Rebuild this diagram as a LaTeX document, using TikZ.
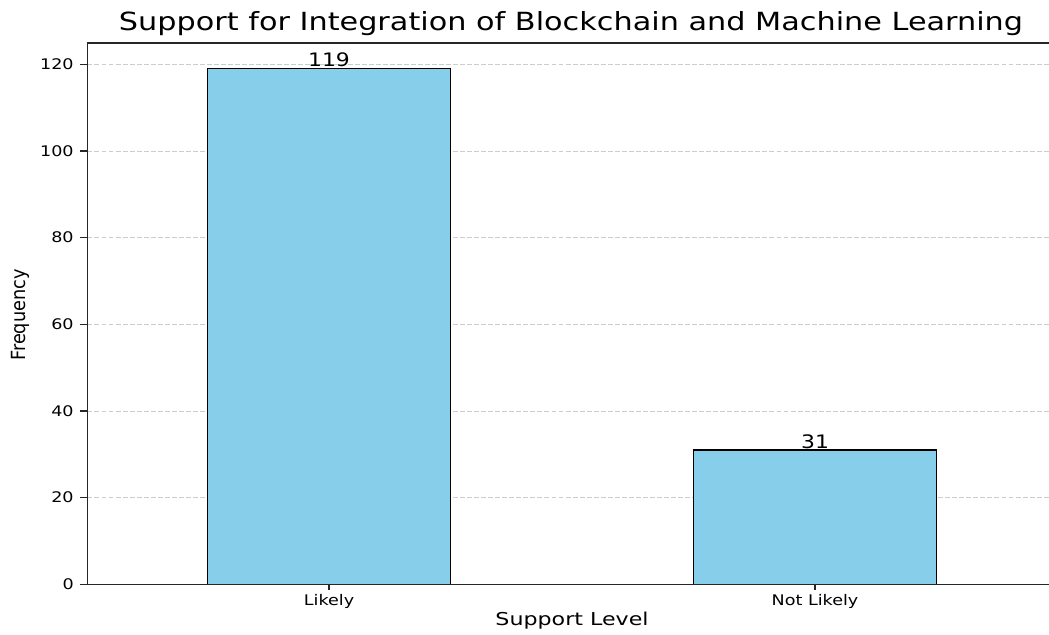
\documentclass[tikz,border=0pt]{standalone}
\usepackage{fontspec}
\setmainfont{DejaVu Sans}
\usepackage{xcolor}
\definecolor{skyblue}{HTML}{87CEEB}
\definecolor{gridgray}{HTML}{CCCCCC}
\definecolor{spinegray}{HTML}{262626}

\tikzset{
    ticklabel/.style={font=\fontsize{10.4}{12}\selectfont, inner sep=0pt, xscale=1.2},
    barlabel/.style={font=\fontsize{13.2}{15}\selectfont, inner sep=0pt, anchor=south, xscale=1.18},
    axislabel/.style={font=\fontsize{12.6}{15}\selectfont, inner sep=0pt},
}

\begin{document}
\begin{tikzpicture}[x=0.025cm, y=0.025cm]
\useasboundingbox (0,0) rectangle (1049,634);
\begin{scope}[shift={(329,49.7)}, xscale=486, yscale=4.333]
    % grid
    \foreach \y in {20,40,...,120}
        \draw[gridgray, line width=0.6pt, dash pattern=on 3.5pt off 1.5pt] (-0.497,\y) -- (1.482,\y);

    % bars
    \draw[line width=0.9pt, fill=skyblue] (-0.25,0) rectangle (0.25,119);
    \draw[line width=0.9pt, fill=skyblue] (0.75,0) rectangle (1.25,31);
    \node[barlabel] (likelyval) at (0,119.3) {119};
    \node[barlabel] (notlikelyval) at (1,31.3) {31};

    % spines
    \draw[spinegray, line width=0.9pt] (1.482,124.95) -- (-0.497,124.95) -- (-0.497,0) -- (1.482,0);

    \foreach \y in {0,20,...,120}{
        \draw[spinegray, line width=0.8pt] (-0.497,\y) -- (-0.5114,\y);
        \node[ticklabel, anchor=east] (ytick\y) at (-0.5247,\y) {\y};
    }
    \foreach \x/\xtext/\xname in {0/Likely/likely,1/Not Likely/notlikely}{
        \draw[spinegray, line width=0.8pt] (\x,0) -- (\x,-1.3);
        \node[ticklabel, anchor=north] (xtick\xname) at (\x,-2.3) {\xtext};
    }
\end{scope}
\node[axislabel, xscale=1.25] (xlabel) at (572,13) {Support Level};
\node[axislabel, rotate=90, yscale=1.1] (ylabel) at (20,319) {Frequency};
\node[font=\fontsize{17.8}{20}\selectfont, inner sep=0pt, xscale=1.21] (title) at (571,610)
    {Support for Integration of Blockchain and Machine Learning};
\end{tikzpicture}
\end{document}
